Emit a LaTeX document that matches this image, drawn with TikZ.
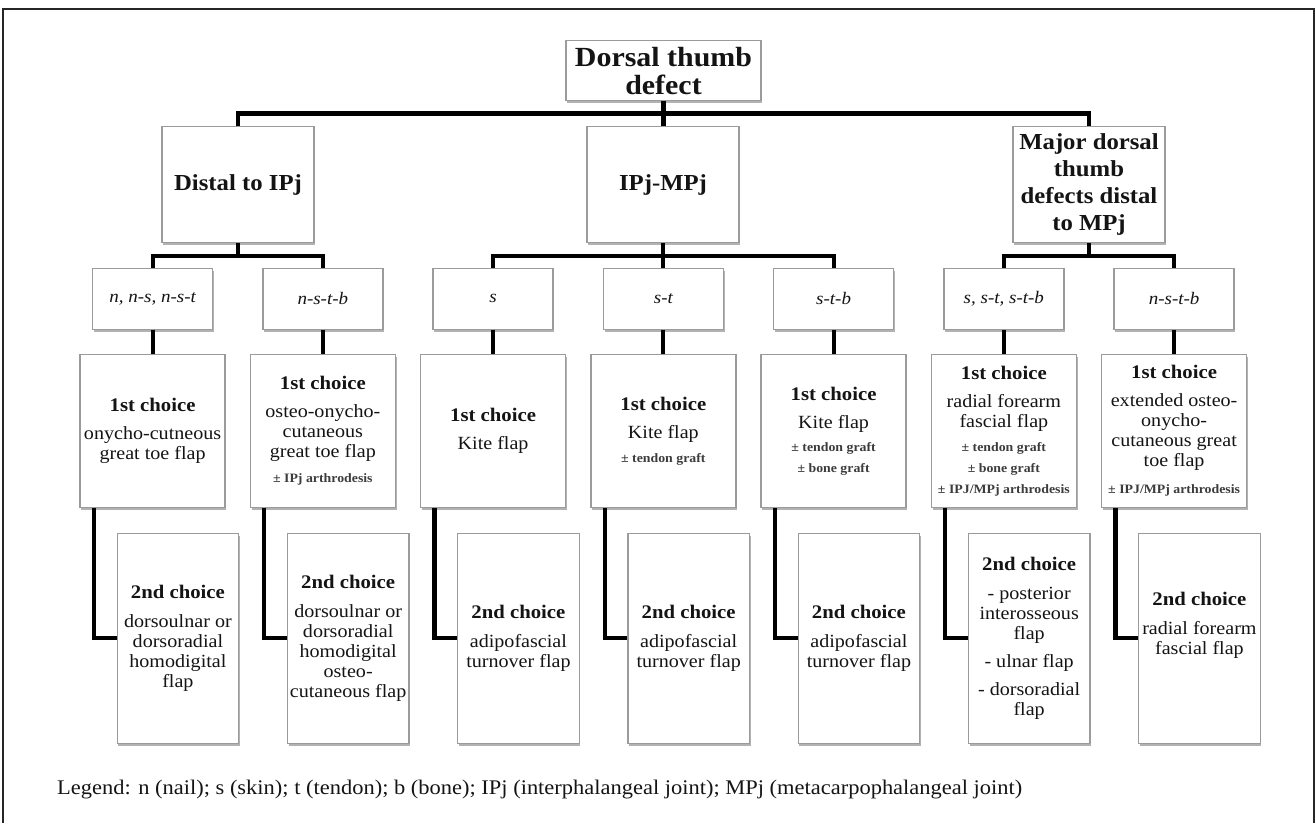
\documentclass[tikz,border=0pt]{standalone}
\usepackage{fontspec}
\setmainfont{Liberation Serif}[FakeStretch=1.08]
\usetikzlibrary{shadows}
\definecolor{bordergray}{RGB}{155,155,155}
\definecolor{txt}{RGB}{20,20,20}
\definecolor{smalltxt}{RGB}{60,60,60}
\newcommand\RootF{\fontsize{27.7}{27.7}\selectfont\bfseries}
\newcommand\LoneF{\fontsize{22.9}{27}\selectfont\bfseries}
\newcommand\LtwoF{\fontsize{17.6}{20}\selectfont\itshape}
\newcommand\HeadF{\fontsize{19.2}{20}\selectfont\bfseries}
\newcommand\BodyF{\fontsize{18.6}{20}\selectfont}
\newcommand\SmallF{\fontsize{12.8}{20}\selectfont\bfseries\color{smalltxt}}
\begin{document}
\begin{tikzpicture}[x=1pt,y=-1pt,
  box/.style={draw=bordergray, line width=1.3pt, fill=white, inner sep=0pt, align=center, text=txt,
    drop shadow={shadow xshift=1.2pt, shadow yshift=-2.2pt, fill=black!55, opacity=0.55}},
  rootbox/.style={box, minimum width=195pt, minimum height=60pt, font=\RootF},
  lonebox/.style={box, minimum width=152pt, minimum height=116pt, font=\LoneF},
  ltwobox/.style={box, minimum width=120pt, minimum height=61pt, font=\LtwoF},
  firstbox/.style={box, minimum width=145pt, minimum height=153.4pt, font=\BodyF},
  secondbox/.style={box, minimum width=121.5pt, minimum height=210pt, font=\BodyF},
  conn/.style={line width=4.2pt, draw=black, line join=miter}
]
\useasboundingbox (0,0) rectangle (1316,822);
\draw[line width=2pt, black!85] (3.3,823) -- (3.3,9) -- (1314.3,9) -- (1314.3,823);

% root
\node[rootbox] (root) at (663.5,70.7) {Dorsal thumb\\defect};

% level 1
\node[lonebox] (L1a) at (238,184.7) {Distal to IPj};
\node[lonebox] (L1b) at (663,184.7) {IPj-MPj};
\node[lonebox] (L1c) at (1089,184.7) {Major dorsal\\thumb\\defects distal\\to MPj};

% level 2
\node[ltwobox] (L2a) at (152.6,298.8) {n, n-s, n-s-t};
\node[ltwobox] (L2b) at (322.85,298.8) {n-s-t-b};
\node[ltwobox] (L2c) at (493.1,298.8) {s};
\node[ltwobox] (L2d) at (663.35,298.8) {s-t};
\node[ltwobox] (L2e) at (833.6,298.8) {s-t-b};
\node[ltwobox] (L2f) at (1003.85,298.8) {s, s-t, s-t-b};
\node[ltwobox] (L2g) at (1174.1,298.8) {n-s-t-b};

% 1st choice
\node[firstbox] (C1a) at (152.6,431) {{\HeadF 1st choice}\\[8pt]onycho-cutneous\\great toe flap};
\node[firstbox] (C1b) at (322.85,431) {{\HeadF 1st choice}\\[8pt]osteo-onycho-\\cutaneous\\great toe flap\\[5pt]{\SmallF ± IPj arthrodesis}};
\node[firstbox] (C1c) at (493.1,431) {{\HeadF 1st choice}\\[8pt]Kite flap};
\node[firstbox] (C1d) at (663.35,431) {{\HeadF 1st choice}\\[8pt]Kite flap\\[3.5pt]{\SmallF ± tendon graft}};
\node[firstbox] (C1e) at (833.6,431) {{\HeadF 1st choice}\\[8pt]Kite flap\\[3.5pt]{\SmallF ± tendon graft}\\[1pt]{\SmallF ± bone graft}};
\node[firstbox] (C1f) at (1003.85,431) {{\HeadF 1st choice}\\[8pt]radial forearm\\fascial flap\\[3.5pt]{\SmallF ± tendon graft}\\[1pt]{\SmallF ± bone graft}\\[1pt]{\SmallF ± IPJ/MPj arthrodesis}};
\node[firstbox] (C1g) at (1174.1,431) {{\HeadF 1st choice}\\[8pt]extended osteo-\\onycho-\\cutaneous great\\toe flap\\[7pt]{\SmallF ± IPJ/MPj arthrodesis}};

% 2nd choice
\node[secondbox] (C2a) at (177.9,638.3) {{\HeadF 2nd choice}\\[9pt]dorsoulnar or\\dorsoradial\\homodigital\\flap};
\node[secondbox] (C2b) at (348.15,638.3) {{\HeadF 2nd choice}\\[8.5pt]dorsoulnar or\\dorsoradial\\homodigital\\osteo-\\cutaneous flap};
\node[secondbox] (C2c) at (518.4,638.3) {{\HeadF 2nd choice}\\[9pt]adipofascial\\turnover flap};
\node[secondbox] (C2d) at (688.65,638.3) {{\HeadF 2nd choice}\\[9pt]adipofascial\\turnover flap};
\node[secondbox] (C2e) at (858.9,638.3) {{\HeadF 2nd choice}\\[9pt]adipofascial\\turnover flap};
\node[secondbox] (C2f) at (1029.15,638.3) {{\HeadF 2nd choice}\\[9pt]- posterior\\interosseous\\flap\\[8pt]- ulnar flap\\[7.5pt]- dorsoradial\\flap};
\node[secondbox, text depth=29pt] (C2g) at (1199.4,638.3) {{\HeadF 2nd choice}\\[9pt]radial forearm\\fascial flap};

% legend
\node[anchor=base west, inner sep=0pt, text=txt, font=\fontsize{20.8}{22}\selectfont] (legend) at (57,794)
  {Legend: n (nail); s (skin); t (tendon); b (bone); IPj (interphalangeal joint); MPj (metacarpophalangeal joint)};

% connectors
\coordinate (jt) at (0,113.5);
\coordinate (ja) at (0,256);
\draw[conn] (root.south) -- (root.south |- L1b.north);
\draw[conn] (L1a.north) -- (L1a.north |- jt) -- (L1c.north |- jt) -- (L1c.north);

\draw[conn] (L1a.south) -- (L1a.south |- ja);
\draw[conn] (L2a.north) -- (L2a.north |- ja) -- (L2b.north |- ja) -- (L2b.north);
\draw[conn] (L1b.south) -- (L1b.south |- L2d.north);
\draw[conn] (L2c.north) -- (L2c.north |- ja) -- (L2e.north |- ja) -- (L2e.north);
\draw[conn] (L1c.south) -- (L1c.south |- ja);
\draw[conn] (L2f.north) -- (L2f.north |- ja) -- (L2g.north |- ja) -- (L2g.north);

\foreach \k in {a,b,c,d,e,f,g}{
  \draw[conn] (L2\k.south) -- (C1\k.north);
  \draw[conn] ([xshift=14.5pt]C1\k.south west) |- (C2\k.west);
}
\end{tikzpicture}
\end{document}
